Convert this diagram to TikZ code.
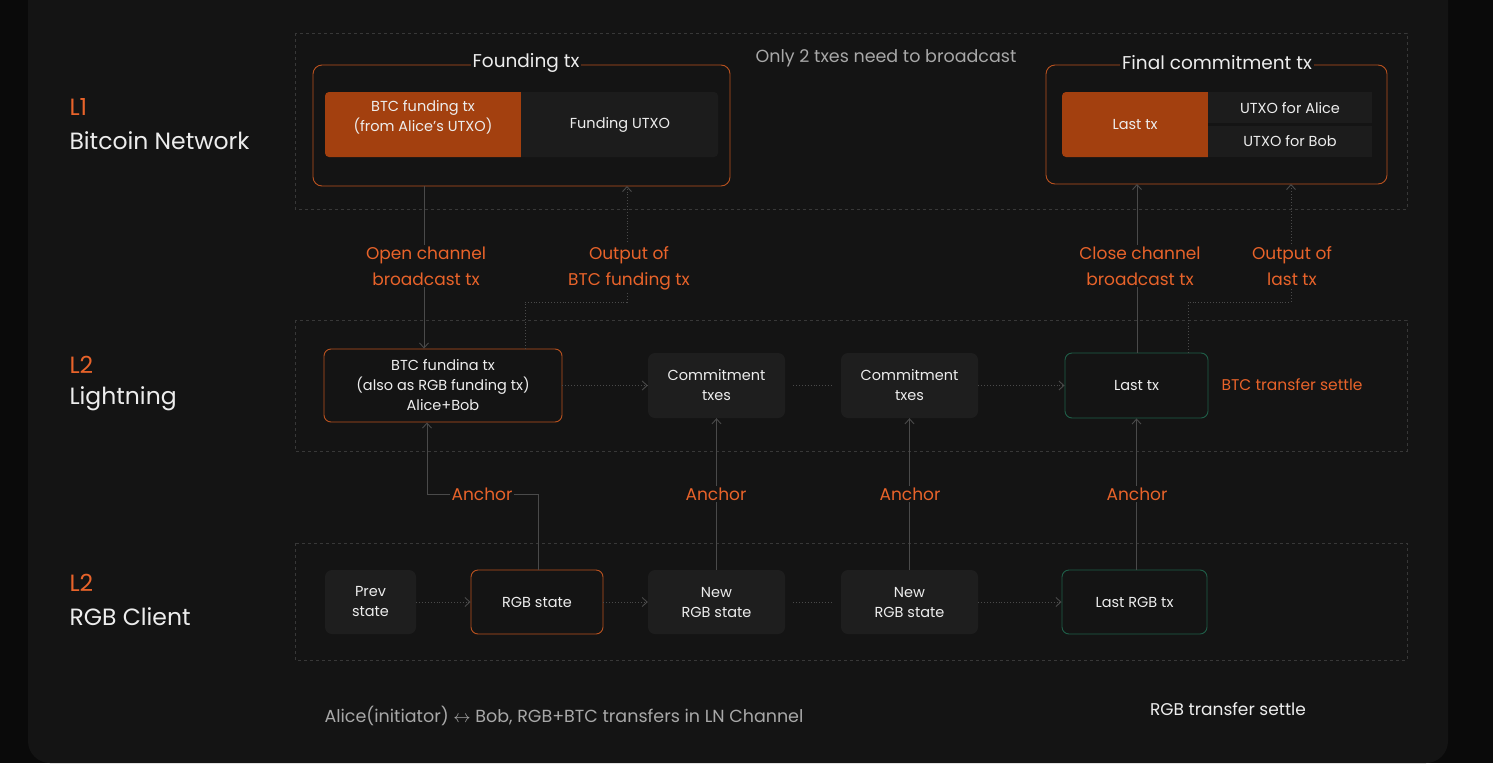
\documentclass[tikz,border=0pt]{standalone}
\usepackage{fontspec}
\setmainfont{Poppins}
\usetikzlibrary{arrows.meta,calc}
\definecolor{bgout}{HTML}{0A0A0A}
\definecolor{panel}{HTML}{141414}
\definecolor{dash}{HTML}{383838}
\definecolor{org}{HTML}{E8632A}
\definecolor{orgbd}{HTML}{B9521F}
\definecolor{orgfill}{HTML}{A3400F}
\definecolor{cell}{HTML}{1C1C1C}
\definecolor{nodefill}{HTML}{1E1E1E}
\definecolor{grn}{HTML}{1F5E48}
\definecolor{line}{HTML}{4A4A4A}
\definecolor{txt}{HTML}{EDEDED}
\definecolor{gry}{HTML}{A8A8A8}
\tikzset{
  region/.style={draw=dash,dashed,line width=0.8pt},
  frame/.style={draw=orgbd,rounded corners=9pt,line width=0.9pt},
  box/.style={rounded corners=7pt,fill=nodefill,text=txt,font=\fontsize{14.5}{20}\selectfont,align=center},
  lbl/.style={text=org,fill=panel,font=\fontsize{17}{26}\selectfont,align=center,inner sep=2pt},
  conn/.style={draw=line,line width=0.9pt,-{Straight Barb[length=5pt,width=9pt]}},
  dconn/.style={draw=line,line width=0.9pt,dotted,-{Straight Barb[length=5pt,width=9pt]}},
  side/.style={anchor=west,font=\fontsize{23.5}{28}\selectfont},
  ttl/.style={fill=panel,text=txt,font=\fontsize{18.5}{22}\selectfont,inner sep=2pt},
  cellt/.style={text=txt,font=\fontsize{14.5}{20}\selectfont,align=center},
}
\begin{document}
\begin{tikzpicture}[x=1pt,y=-1pt]
\useasboundingbox (0,0) rectangle (1493,763);
\fill[bgout] (0,0) rectangle (1493,763);
\fill[panel,rounded corners=22pt] (28,-30) rectangle (1448,763);
\draw[region] (295,33) rectangle (1407,209);
\draw[region] (295,320) rectangle (1407,451);
\draw[region] (295,543) rectangle (1407,660);
\node[side,text=org] at (66,107) {L1};
\node[side,text=txt] at (66,141) {Bitcoin Network};
\node[side,text=org] at (66,365) {L2};
\node[side,text=txt] at (66,399) {Lightning};
\node[side,text=org] at (66,583) {L2};
\node[side,text=txt] at (66,617) {RGB Client};
\draw[frame,fill=panel] (313,65) rectangle (730,186);
\node[ttl] (ft) at (526,63) {Founding tx};
\fill[orgfill,rounded corners=4pt] (325,92) rectangle (525,157);
\fill[orgfill] (500,92) rectangle (521,157);
\fill[cell,rounded corners=4pt] (521,92) rectangle (718,157);
\fill[cell] (521,92) rectangle (540,157);
\node[cellt] (btcf) at (423,117) {BTC funding tx\\(from Alice’s UTXO)};
\node[cellt] (fu) at (620,125) {Funding UTXO};
\node[text=gry,font=\fontsize{17.5}{20}\selectfont] (only) at (886,58) {Only 2 txes need to broadcast};
\draw[frame,fill=panel] (1046,65) rectangle (1387,184);
\node[ttl] (fct) at (1217,63) {Final commitment tx};
\fill[orgfill,rounded corners=4pt] (1062,92) rectangle (1212,157);
\fill[panel] (1208,92) rectangle (1214,157);
\fill[cell] (1208,92) rectangle (1372,123);
\fill[cell] (1208,126) rectangle (1372,157);
\node[cellt] (lt1) at (1135,125) {Last tx};
\node[cellt] (ua) at (1290,108) {UTXO for Alice};
\node[cellt] (ub) at (1290,141) {UTXO for Bob};
\coordinate (ftb1) at (424,186);
\coordinate (ftb2) at (627,186);
\coordinate (fcb1) at (1137,184);
\coordinate (fcb2) at (1291,184);
\node[box,draw=orgbd,line width=0.9pt,fill=panel,minimum width=238pt,minimum height=73pt] (bf) at (443,385.5) {BTC fundina tx\\(also as RGB funding tx)\\Alice+Bob};
\node[box,minimum width=137pt,minimum height=65pt] (c1) at (716.5,385.5) {Commitment\\txes};
\node[box,minimum width=137pt,minimum height=65pt] (c2) at (909.5,385.5) {Commitment\\txes};
\node[box,draw=grn,line width=0.9pt,fill=panel,minimum width=143pt,minimum height=65pt] (lt) at (1136.5,385.5) {Last tx};
\node[text=org,font=\fontsize{15.5}{18}\selectfont] (bts) at (1292,385) {BTC transfer settle};
\node[box,minimum width=91pt,minimum height=64pt] (ps) at (370.5,602) {Prev\\state};
\node[box,draw=orgbd,line width=0.9pt,fill=panel,minimum width=132pt,minimum height=64pt] (rs) at (537,602) {RGB state};
\node[box,minimum width=137pt,minimum height=64pt] (n1) at (716.5,602) {New\\RGB state};
\node[box,minimum width=137pt,minimum height=64pt] (n2) at (909.5,602) {New\\RGB state};
\node[box,draw=grn,line width=0.9pt,fill=panel,minimum width=145pt,minimum height=64pt] (lr) at (1134.5,602) {Last RGB tx};
\draw[dconn] (bf) -- (c1);
\draw[draw=line,line width=0.9pt,dotted] ($(c1.east)+(8,0)$) -- ($(c2.west)+(-8,0)$);
\draw[dconn] (c2) -- (lt);
\draw[dconn] (ps) -- (rs);
\draw[dconn] (rs) -- (n1);
\draw[draw=line,line width=0.9pt,dotted] ($(n1.east)+(8,0)$) -- ($(n2.west)+(-8,0)$);
\draw[dconn] (n2) -- (lr);
\draw[conn] (ftb1) -- (ftb1 |- bf.north);
\node[lbl] (oc) at (426,266) {Open channel\\broadcast tx};
\coordinate (o1) at (525,302);
\coordinate (o2) at (627,302);
\draw[dconn] (o1 |- bf.north) -- (o1) -- (o2) -- (ftb2);
\node[lbl] (ob) at (629,268) {Output of\\BTC funding tx};
\draw[conn] (fcb1 |- lt.north) -- (fcb1);
\node[lbl] (cc) at (1140,266) {Close channel\\broadcast tx};
\coordinate (p1) at (1188,302);
\coordinate (p2) at (1291,302);
\draw[dconn] (p1 |- lt.north) -- (p1) -- (p2) -- (fcb2);
\node[lbl] (ol) at (1292,266) {Output of\\last tx};
\coordinate (a1) at (538,494);
\coordinate (a2) at (427,494);
\draw[conn] (a1 |- rs.north) -- (a1) -- (a2) -- (a2 |- bf.south);
\node[lbl] (an1) at (482,494) {Anchor};
\draw[conn] (n1) -- (c1);
\node[lbl] (an2) at (716,494) {Anchor};
\draw[conn] (n2) -- (c2);
\node[lbl] (an3) at (910,494) {Anchor};
\draw[conn] (lt |- lr.north) -- (lt);
\node[lbl] (an4) at (1137,494) {Anchor};
\node[text=gry,font=\fontsize{17.5}{20}\selectfont] (al) at (564,716) {Alice(initiator) $\leftrightarrow$ Bob, RGB+BTC transfers in LN Channel};
\node[text=txt,font=\fontsize{17}{20}\selectfont] (rts) at (1228,709) {RGB transfer settle};
\end{tikzpicture}
\end{document}
